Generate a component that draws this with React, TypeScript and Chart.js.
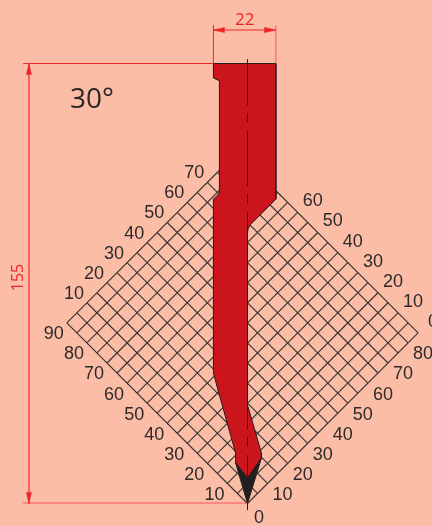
import React, { useEffect, useRef } from "react";
import { Chart, registerables } from "chart.js";

Chart.register(...registerables);

// Geometry in millimetres, origin at the punch tip.
const punchX = [-12, 10, 10, 0.9, 0.2, 0, 0, 4.9, 4.9, 0, -4.2, -4.2, -10.6, -12, -12, -9.9, -9.9, -12, -12];
const punchY = [155, 155, 107.2, 98.1, 96.7, 95.2, 34.7, 17.8, 16, 9, 14.3, 17.8, 40.7, 46, 107.2, 109.3, 148.9, 149.9, 155];
const tipX = [4.9, 0, -4.2, 0, 4.9];
const tipY = [16, 0, 14.3, 9, 16];

// Grid lines along the two diagonal directions.
const gridU = [0, 5, 10, 15, 20, 25, 30, 35, 40, 45, 50, 55, 60, 65, 70, 75, 80, 85];
const gridV = [0, 5, 10, 15, 20, 25, 30, 35, 40, 45, 50, 55, 60, 65, 70, 75, 80, 85, 90];

// Tick labels of the four diamond edges.
const lowerLeftTicks = [10, 20, 30, 40, 50, 60, 70, 80, 90];
const lowerRightTicks = [10, 20, 30, 40, 50, 60, 70, 80];
const upperLeftTicks = [10, 20, 30, 40, 50, 60, 70];
const upperRightTicks = [0, 10, 20, 30, 40, 50, 60];

const tipAngleDeg = "30°";
const heightDim = 155;
const widthDimFrom = -12;
const widthDimTo = 10;
const heightDimAxisX = -77;
const widthDimAxisY = 166.8;

const PX = 440 / 155;
const ORIGIN_X = 247.5;
const ORIGIN_Y = 503.5;
const W = 432;
const H = 526;

const BG = "#fbbda6";
const RED = "#cb141c";
const BLACK = "#231f20";
const DIM = "#ee2329";
const DIM_SOFT = "#f8555c";
const GRID = "#3a3331";

const diag = (u: number, v: number) => ({
  x: (u - v) * Math.SQRT1_2,
  y: (u + v) * Math.SQRT1_2,
});

const segment = (a: { x: number; y: number }, b: { x: number; y: number }, color: string, width = 1, extra: any = {}) => ({
  type: "line" as const,
  data: [a, b],
  borderColor: color,
  borderWidth: width,
  pointRadius: 0,
  fill: false,
  tension: 0,
  ...extra,
});

const polygon = (xs: number[], ys: number[], fillColor: string, stroke: string, width: number) => ({
  type: "line" as const,
  data: xs.map((x, i) => ({ x, y: ys[i] })),
  backgroundColor: fillColor,
  borderColor: stroke,
  borderWidth: width,
  pointRadius: 0,
  fill: "shape",
  tension: 0,
});

const arrow = (x: number, y: number, dx: number, dy: number) => {
  const len = 3.9;
  const half = 0.9;
  return polygon(
    [x, x + dx * len - dy * half, x + dx * len + dy * half, x],
    [y, y + dy * len - dx * half, y + dy * len + dx * half, y],
    DIM,
    DIM,
    0.5,
  );
};

const labelsPlugin = {
  id: "labels",
  afterDatasetsDraw(chart: any) {
    const { ctx, scales } = chart;
    const sx = (v: number) => scales.x.getPixelForValue(v);
    const sy = (v: number) => scales.y.getPixelForValue(v);
    const put = (text: string, px: number, py: number, font: string, color: string, rot = 0) => {
      ctx.save();
      ctx.translate(px, py);
      ctx.rotate(rot);
      ctx.font = font;
      ctx.fillStyle = color;
      ctx.textAlign = "center";
      ctx.textBaseline = "middle";
      ctx.fillText(text, 0, 0);
      ctx.restore();
    };
    const tickFont = '18px "Liberation Sans"';
    const tickColor = "#2e2a2a";
    const edge = (ticks: number[], at: (t: number) => { x: number; y: number }, ox: number, oy: number) =>
      ticks.forEach((t) => {
        const p = at(t);
        put(String(t), sx(p.x) + ox, sy(p.y) + oy, tickFont, tickColor);
      });
    const uMax = gridU[gridU.length - 1];
    const vMax = gridV[gridV.length - 1];
    edge(lowerLeftTicks, (t) => diag(0, t), -13, 11.5);
    edge(lowerRightTicks, (t) => diag(t, 0), 15, 11.5);
    edge(upperLeftTicks, (t) => diag(t, vMax), -13, -9);
    edge(upperRightTicks, (t) => diag(uMax, t), 15, -11);
    put("0", sx(0) + 11.5, sy(0) + 15, tickFont, tickColor);
    put(tipAngleDeg, 92, 100, '28px "Open Sans"', "#2b2727");
    put(String(widthDimTo - widthDimFrom), sx((widthDimFrom + widthDimTo) / 2), 20, '17px "Open Sans"', DIM);
    put(String(heightDim), sx(heightDimAxisX) - 10, sy(heightDim / 2) - 6, '16px "Open Sans"', DIM, -Math.PI / 2);
  },
};

export default function App() {
  const ref = useRef<HTMLCanvasElement | null>(null);

  useEffect(() => {
    document.body.style.margin = "0";
    document.body.style.background = BG;
    const uMax = gridU[gridU.length - 1];
    const vMax = gridV[gridV.length - 1];

    const gridLines = [
      ...gridU.map((u) => segment(diag(u, 0), diag(u, vMax), GRID, 1.15)),
      ...gridV.map((v) => segment(diag(0, v), diag(uMax, v), GRID, 1.15)),
    ];

    // Painted bottom to top; Chart.js paints the first dataset last, so the list is reversed below.
    const painted: any[] = [
      ...gridLines,
      polygon(punchX, punchY, RED, BLACK, 1),
      polygon(tipX, tipY, BLACK, BLACK, 1),
      segment({ x: -79, y: 155 }, { x: widthDimFrom, y: 155 }, DIM),
      segment({ x: -79, y: 0.17 }, { x: 0, y: 0.17 }, DIM_SOFT),
      segment({ x: heightDimAxisX, y: 155 }, { x: heightDimAxisX, y: 0 }, DIM_SOFT),
      segment({ x: widthDimFrom, y: 155 }, { x: widthDimFrom, y: 168.5 }, DIM),
      segment({ x: widthDimTo, y: 155 }, { x: widthDimTo, y: 168.5 }, DIM_SOFT),
      segment({ x: widthDimFrom, y: widthDimAxisY }, { x: widthDimTo, y: widthDimAxisY }, DIM),
      arrow(widthDimFrom, widthDimAxisY, 1, 0),
      arrow(widthDimTo, widthDimAxisY, -1, 0),
      arrow(heightDimAxisX, heightDim, 0, -1),
      arrow(heightDimAxisX, 0, 0, 1),
      segment({ x: 0, y: 156.5 }, { x: 0, y: -2.8 }, BLACK, 1, { borderDash: [55, 8, 9, 9], borderDashOffset: 9 }),
    ];
    const datasets = painted.slice().reverse();

    const chart = new Chart(ref.current as HTMLCanvasElement, {
      type: "scatter",
      data: { datasets },
      options: {
        responsive: false,
        animation: false,
        devicePixelRatio: 1,
        layout: { padding: 0 },
        plugins: { legend: { display: false }, tooltip: { enabled: false } },
        datasets: { line: { showLine: true } },
        scales: {
          x: { type: "linear", display: false, min: -ORIGIN_X / PX, max: (W - ORIGIN_X) / PX },
          y: { type: "linear", display: false, min: (ORIGIN_Y - H) / PX, max: ORIGIN_Y / PX },
        },
      } as any,
      plugins: [labelsPlugin],
    });
    return () => chart.destroy();
  }, []);

  return <canvas ref={ref} width={W} height={H} style={{ display: "block", background: BG }} />;
}
